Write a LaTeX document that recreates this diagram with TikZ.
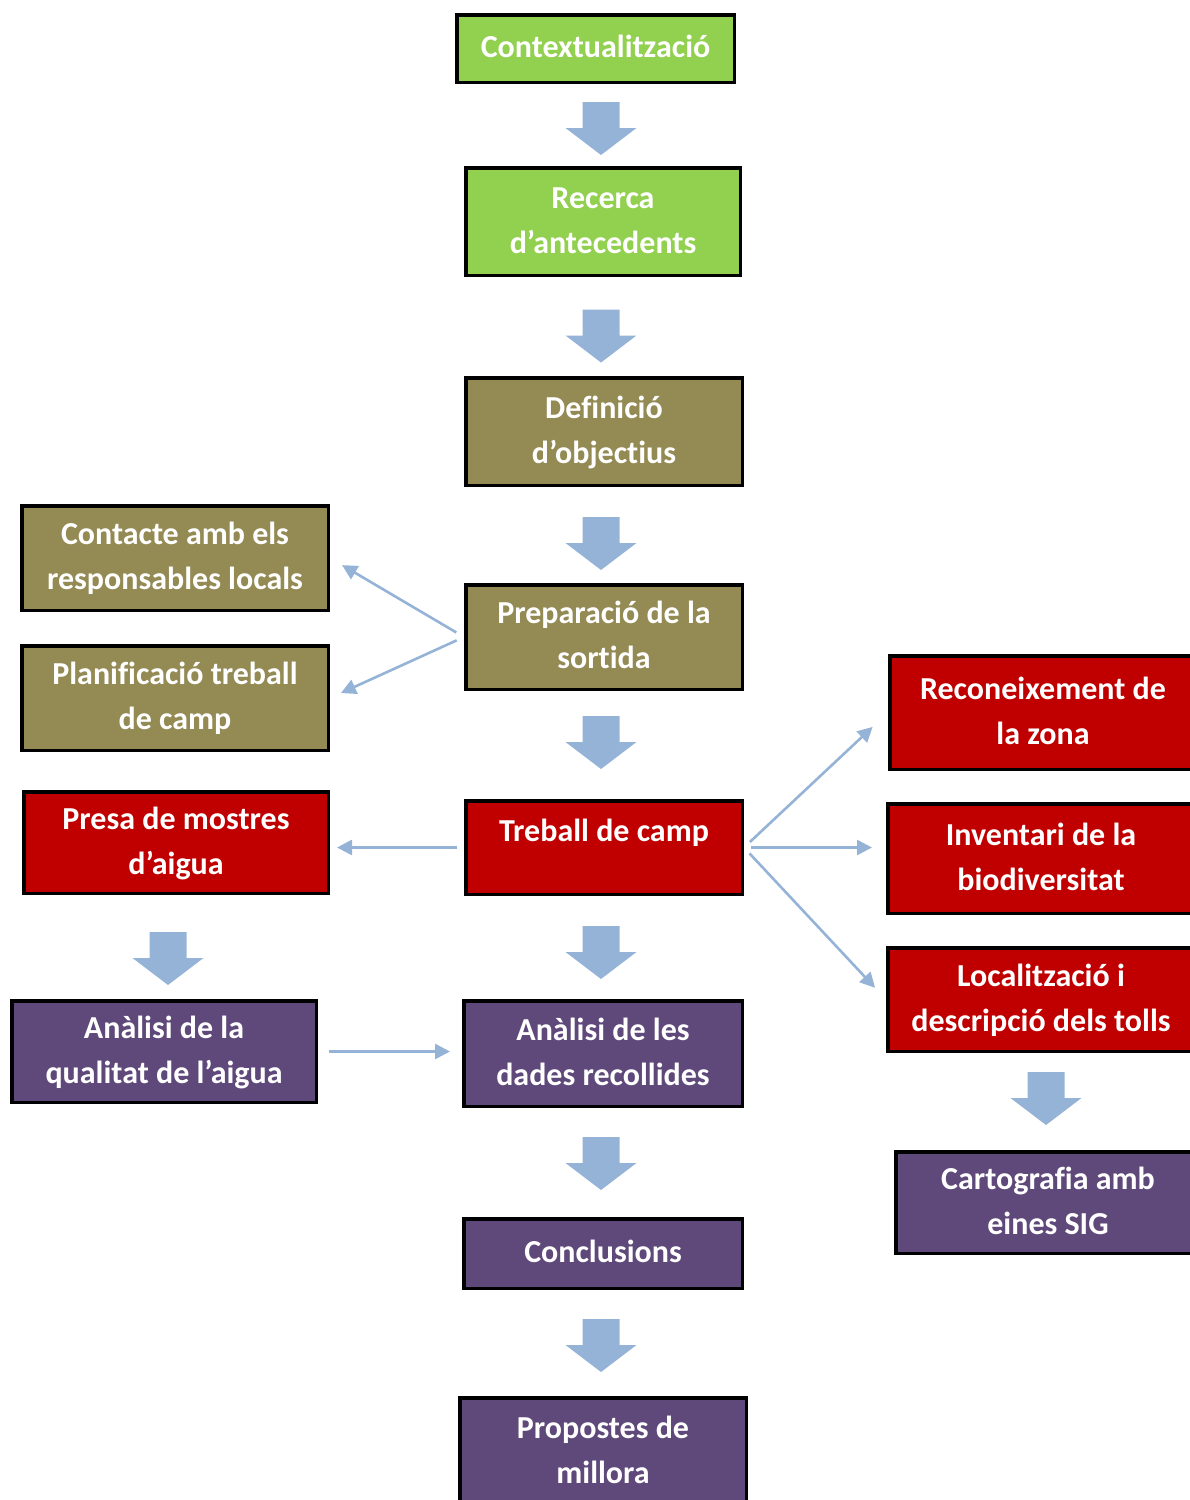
\documentclass[tikz,border=0pt]{standalone}
\usepackage{fontspec}
\setmainfont[Ligatures={NoCommon}]{Carlito}
\usetikzlibrary{arrows.meta,calc}
\definecolor{cgreen}{HTML}{92D050}
\definecolor{colive}{HTML}{948A54}
\definecolor{cred}{HTML}{C00000}
\definecolor{cpurple}{HTML}{5F497A}
\definecolor{cblue}{HTML}{95B3D7}
\newcommand\blockarrow[1]{\fill[cblue] (#1) ++(-18.5,-26.5) -- ++(37,0) -- ++(0,26) -- ++(17,0) -- ++(-35.5,27) -- ++(-35.5,-27) -- ++(17,0) -- cycle;}
\begin{document}
\begin{tikzpicture}[x=1pt,y=-1pt,
  box/.style={draw=black, line width=3.5pt, text=white, align=center, inner sep=0pt,
    font=\fontsize{32}{45}\selectfont\bfseries},
  greenbox/.style={box, fill=cgreen},
  olivebox/.style={box, fill=colive},
  redbox/.style={box, fill=cred},
  purplebox/.style={box, fill=cpurple},
  thinarrow/.style={draw=cblue, line width=2.6pt, -{Triangle[length=15pt,width=15pt]}}
]
\useasboundingbox (0,0) rectangle (1190,1500);
\begin{scope}
\clip (0,0) rectangle (1190,1500);
% central column
\node[greenbox, minimum width=277.5, minimum height=67.5] (ctx) at (595.5,48.5) {\strut Contextualització};
\node[greenbox, minimum width=274.5, minimum height=107.5] (rec) at (603,221.5) {\strut Recerca\\\strut d’antecedents};
\node[olivebox, minimum width=276.5, minimum height=107.5] (def) at (604,431.5) {\strut Definició\\\strut d’objectius};
\node[olivebox, minimum width=276.5, minimum height=104.5] (prep) at (604,637) {\strut Preparació de la\\\strut sortida};
\node[redbox, minimum width=276.5, minimum height=93.5] (tre) at (604,847.5) {\strut Treball de camp\\[-15pt]\strut};
\node[purplebox, minimum width=278.5, minimum height=105.5] (dad) at (603,1053.5) {\strut Anàlisi de les\\\strut dades recollides};
\node[purplebox, minimum width=278.5, minimum height=69.5] (con) at (603,1253.5) {\strut Conclusions};
\node[purplebox, minimum width=286.5, minimum height=108.5] (pro) at (603,1452) {\strut Propostes de\\\strut millora};
% left column
\node[olivebox, minimum width=306.5, minimum height=104.5] (cont) at (175,558) {\strut Contacte amb els\\\strut responsables locals};
\node[olivebox, minimum width=306.5, minimum height=104.5] (plan) at (175,698) {\strut Planificació treball\\\strut de camp};
\node[redbox, minimum width=304.5, minimum height=101.5] (presa) at (176,842.5) {\strut Presa de mostres\\\strut d’aigua};
\node[purplebox, minimum width=304.5, minimum height=101.5] (qual) at (164,1051.5) {\strut Anàlisi de la\\\strut qualitat de l’aigua};
% right column
\node[redbox, minimum width=306.5, minimum height=113.5] (zona) at (1043,712.5) {\strut Reconeixement de\\\strut la zona};
\node[redbox, minimum width=306.5, minimum height=109.5] (inv) at (1041,858.5) {\strut Inventari de la\\\strut biodiversitat};
\node[redbox, minimum width=306.5, minimum height=103.5] (loc) at (1041,999.5) {\strut Localització i\\\strut descripció dels tolls};
\node[purplebox, minimum width=304.5, minimum height=101.5] (cart) at (1048,1202.5) {\strut Cartografia amb\\\strut eines SIG};
\end{scope}
% block arrows
\blockarrow{601,128.5}
\blockarrow{601,336}
\blockarrow{601,543.5}
\blockarrow{601,742.5}
\blockarrow{601,952.5}
\blockarrow{601,1163.5}
\blockarrow{601,1345.5}
\blockarrow{168,958.5}
\blockarrow{1046,1098.5}
% thin arrows
\draw[thinarrow, shorten <=9pt, shorten >=14pt] (prep.west) -- (cont.east);
\draw[thinarrow, shorten <=8pt, shorten >=12pt] (prep.west) -- (plan.east);
\draw[thinarrow, shorten <=7pt, shorten >=7pt] (tre.west) -- (tre.west -| presa.east);
\draw[thinarrow, shorten <=8pt, shorten >=21pt] (tre.east) -- (zona.west);
\draw[thinarrow, shorten <=7pt, shorten >=14pt] (tre.east) -- (tre.east -| inv.west);
\draw[thinarrow, shorten <=8pt, shorten >=16pt] (tre.east) -- (loc.west);
\draw[thinarrow, shorten <=11pt, shorten >=12pt] (qual.east) -- (qual.east -| dad.west);
\end{tikzpicture}
\end{document}
